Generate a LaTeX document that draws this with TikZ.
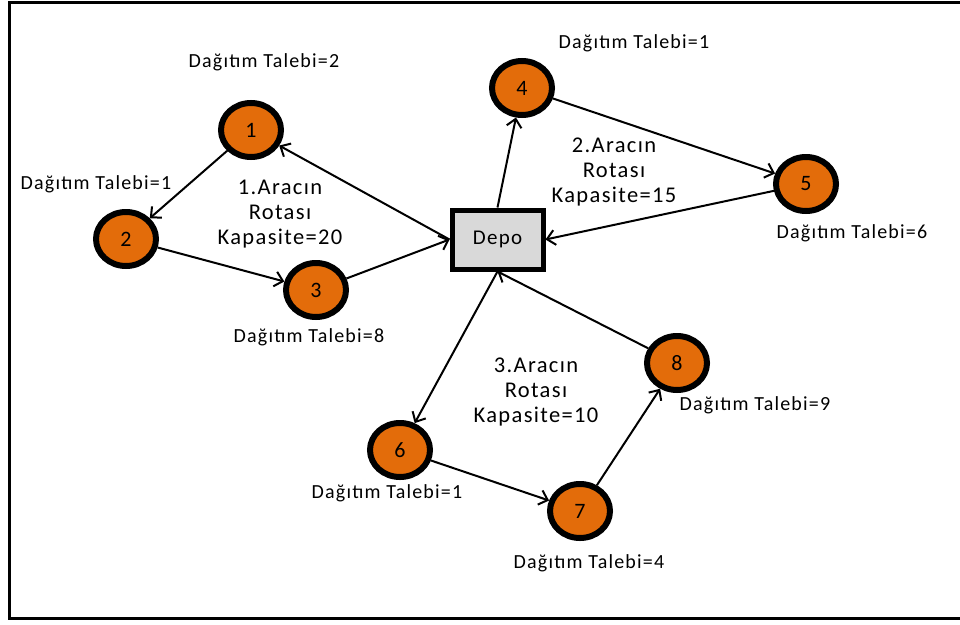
\documentclass[tikz,border=0pt]{standalone}
\usepackage{fontspec}
\usepackage{tikz}
\usetikzlibrary{shapes.geometric,arrows.meta}
\setmainfont{Carlito}
\newfontfamily\lblfont[LetterSpace=6]{Carlito}
\definecolor{musteri}{RGB}{227,108,10}
\definecolor{depogri}{RGB}{217,217,217}

\begin{document}
\begin{tikzpicture}[x=1pt,y=-1pt,
	musteri/.style={ellipse,draw=black,fill=musteri,line width=6pt,
	minimum width=60pt,minimum height=54pt,inner sep=0pt,font=\lblfont\fontsize{22}{26}\selectfont},
	depo/.style={rectangle,draw=black,fill=depogri,line width=5pt,
	minimum width=91pt,minimum height=59pt,inner sep=0pt,font=\lblfont\fontsize{21}{25}\selectfont},
	talep/.style={inner sep=0pt,font=\lblfont\fontsize{20}{24}\selectfont},
	rota/.style={inner sep=0pt,align=center,font=\lblfont\fontsize{22.5}{25}\selectfont},
	yol/.style={line width=2pt,-{Straight Barb[length=8pt,width=15pt]}}]
	\useasboundingbox (0,0) rectangle (960,624);
	\draw[line width=3pt] (960,2) -- (9,2) -- (9,618) -- (960,618);
	\node[depo] (d) at (497.5,239.5) {Depo};
	\node[musteri] (n1) at (251,130) {1};
	\node[musteri] (n2) at (126,239) {2};
	\node[musteri] (n3) at (316,290) {3};
	\node[musteri] (n4) at (522,88) {4};
	\node[musteri] (n5) at (806,184) {5};
	\node[musteri] (n6) at (400,450) {6};
	\node[musteri] (n7) at (580,511) {7};
	\node[musteri] (n8) at (677,363) {8};
	\node[talep] (t1) at (264,62) {Dağıtım Talebi=2};
	\node[talep] (t2) at (96,184) {Dağıtım Talebi=1};
	\node[talep] (t3) at (309,337) {Dağıtım Talebi=8};
	\node[talep] (t4) at (634,43) {Dağıtım Talebi=1};
	\node[talep] (t5) at (852,233) {Dağıtım Talebi=6};
	\node[talep] (t6) at (387,493) {Dağıtım Talebi=1};
	\node[talep] (t7) at (589,563) {Dağıtım Talebi=4};
	\node[talep] (t8) at (755,405) {Dağıtım Talebi=9};
	\node[rota] (r1) at (280,214) {1.Aracın\\Rotası\\Kapasite=20};
	\node[rota] (r2) at (614,172) {2.Aracın\\Rotası\\Kapasite=15};
	\node[rota] (r3) at (536,392) {3.Aracın\\Rotası\\Kapasite=10};
	\draw[yol] (d.west) -- (n1);
	\draw[yol] (n1) -- (n2);
	\draw[yol] (n2) -- (n3);
	\draw[yol] (n3) -- (d.west);
	\draw[yol] (d.north) -- (n4);
	\draw[yol] (n4) -- (n5);
	\draw[yol] (n5) -- (d.east);
	\draw[yol] (d.south) -- (n6);
	\draw[yol] (n6) -- (n7);
	\draw[yol] (n7) -- (n8);
	\draw[yol] (n8) -- (d.south);
\end{tikzpicture}
\end{document}
